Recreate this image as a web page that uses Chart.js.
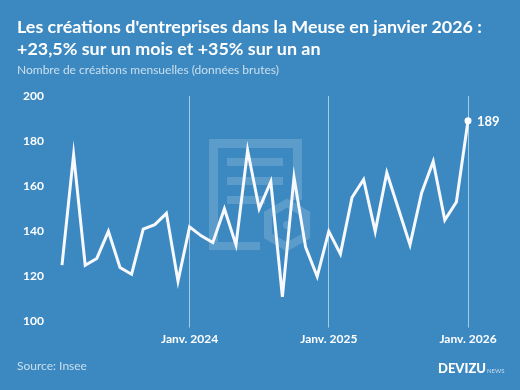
<!DOCTYPE html>
<html lang="fr">
<head>
<meta charset="utf-8">
<script src="https://cdn.jsdelivr.net/npm/chart.js@4.4.1/dist/chart.umd.min.js"></script>
<style>
  html, body { margin: 0; padding: 0; background: #3c89c1; }
  #wrap { width: 520px; height: 390px; position: relative; }
</style>
</head>
<body>
<div id="wrap"><canvas id="chart"></canvas></div>
<script>
// Données : créations d'entreprises mensuelles, Meuse (févr. 2023 -> janv. 2026)
const months = [
  "2023-02", "2023-03", "2023-04", "2023-05", "2023-06", "2023-07",
  "2023-08", "2023-09", "2023-10", "2023-11", "2023-12",
  "2024-01", "2024-02", "2024-03", "2024-04", "2024-05", "2024-06",
  "2024-07", "2024-08", "2024-09", "2024-10", "2024-11", "2024-12",
  "2025-01", "2025-02", "2025-03", "2025-04", "2025-05", "2025-06",
  "2025-07", "2025-08", "2025-09", "2025-10", "2025-11", "2025-12",
  "2026-01",
];
const creations = [
  125, 174, 125, 128, 140, 124, 121, 141, 143, 148, 118,
  142, 138, 135, 150, 134, 176, 150, 162, 111, 164, 133, 120,
  140, 130, 155, 163, 140, 166, 150, 134, 157, 171, 145, 153,
  189,
];
const yTicks = [100, 120, 140, 160, 180, 200];

const FONT = "Lato, 'Open Sans', sans-serif";
const WHITE = "#ffffff";

const janLabel = (m) => (m.endsWith("-01") ? "Janv. " + m.slice(0, 4) : "");

// Titre, sous-titre, source et logo
const textPlugin = {
  id: "texts",
  afterDraw: (chart) => {
    const { ctx } = chart;
    ctx.save();
    ctx.textBaseline = "alphabetic";
    ctx.textAlign = "left";
    ctx.fillStyle = WHITE;
    ctx.font = "bold 17.9px " + FONT;
    ctx.fillText("Les créations d'entreprises dans la Meuse en janvier 2026 :", 17, 33);
    ctx.fillText("+23,5% sur un mois et +35% sur un an", 17, 55);
    ctx.fillStyle = "rgba(255,255,255,0.72)";
    ctx.font = "12px " + FONT;
    ctx.fillText("Nombre de créations mensuelles (données brutes)", 17, 74);
    ctx.font = "12px " + FONT;
    ctx.fillText("Source: Insee", 17, 370);
    // logo
    ctx.fillStyle = WHITE;
    ctx.font = "900 13px " + FONT;
    ctx.fillText("DEVIZU", 438, 373);
    const w = ctx.measureText("DEVIZU").width;
    ctx.fillStyle = "rgba(255,255,255,0.7)";
    ctx.font = "6px " + FONT;
    ctx.fillText("NEWS", 438 + w + 1, 373);

    // étiquette dernier point
    const meta = chart.getDatasetMeta(0);
    const last = meta.data[meta.data.length - 1];
    ctx.fillStyle = WHITE;
    ctx.font = "bold 13px " + FONT;
    ctx.textBaseline = "middle";
    ctx.fillText(String(creations[creations.length - 1]), last.x + 9, last.y + 1);
    ctx.restore();
  },
};

// Filigrane (document + hexagone) derrière la courbe
const watermarkPlugin = {
  id: "watermark",
  beforeDatasetsDraw: (chart) => {
    const { ctx } = chart;
    ctx.save();
    ctx.fillStyle = "rgba(255,255,255,0.16)";
    ctx.strokeStyle = "rgba(255,255,255,0.16)";
    // cadre
    ctx.fillRect(209, 139, 93, 9);
    ctx.fillRect(209, 148, 9, 102);
    ctx.fillRect(293, 148, 9, 52);
    ctx.fillRect(218, 242, 42, 8);
    // lignes
    ctx.fillRect(227, 158, 56, 8);
    ctx.fillRect(227, 177, 56, 8);
    ctx.fillRect(227, 196, 38, 8);
    // hexagone
    ctx.lineWidth = 8;
    ctx.beginPath();
    const cx = 287, cy = 225, r = 22;
    for (let i = 0; i < 6; i++) {
      const a = Math.PI / 6 + (i * Math.PI) / 3;
      const px = cx + r * Math.cos(a), py = cy + r * Math.sin(a);
      i === 0 ? ctx.moveTo(px, py) : ctx.lineTo(px, py);
    }
    ctx.closePath();
    ctx.stroke();
    ctx.beginPath();
    ctx.arc(cx, cy, 4, 0, Math.PI * 2);
    ctx.fill();
    ctx.restore();
  },
};

new Chart(document.getElementById("chart").getContext("2d"), {
  type: "line",
  data: {
    labels: months,
    datasets: [
      {
        data: creations,
        borderColor: "#f7f9ff",
        borderWidth: 3,
        tension: 0,
        pointRadius: (c) => (c.dataIndex === creations.length - 1 ? 3.5 : 0),
        pointBackgroundColor: WHITE,
        pointBorderWidth: 0,
      },
    ],
  },
  options: {
    responsive: true,
    maintainAspectRatio: false,
    animation: false,
    layout: { padding: { top: 96, left: 17, right: 52, bottom: 40 } },
    plugins: {
      legend: { display: false },
      tooltip: { enabled: false },
    },
    scales: {
      x: {
        offset: false,
        afterFit: (axis) => {
          axis.paddingLeft = 0;
          axis.paddingRight = 0;
        },
        grid: {
          color: (c) => (c.tick && janLabel(months[c.index]) ? "rgba(255,255,255,0.55)" : "transparent"),
          tickLength: 6,
          drawOnChartArea: true,
        },
        border: { display: false },
        ticks: {
          autoSkip: false,
          maxRotation: 0,
          color: WHITE,
          font: { family: FONT, weight: "bold", size: 12 },
          padding: 4,
          callback: (v, i) => janLabel(months[i]),
        },
      },
      y: {
        min: 100,
        max: 200,
        afterBuildTicks: (axis) => {
          axis.ticks = yTicks.map((v) => ({ value: v }));
        },
        afterFit: (axis) => {
          axis.width = 45;
        },
        grid: { display: false },
        border: { display: false },
        ticks: {
          color: WHITE,
          font: { family: FONT, weight: "bold", size: 12 },
          padding: 10,
        },
      },
    },
  },
  plugins: [watermarkPlugin, textPlugin],
});
</script>
</body>
</html>
